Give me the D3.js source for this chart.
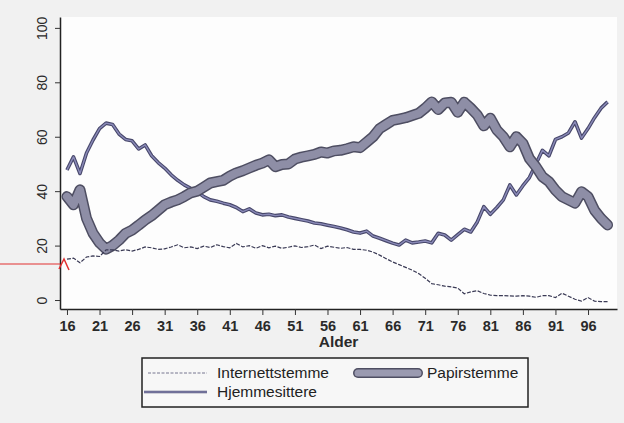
<!DOCTYPE html>
<html>
<head>
<meta charset="utf-8">
<script src="https://cdn.jsdelivr.net/npm/d3@7"></script>
<style>
  body { margin: 0; background: #f1f1f1; }
  svg { display: block; font-family: "Liberation Sans", Arial, sans-serif; }
</style>
</head>
<body>
<div id="chart"></div>
<script>
(function () {
  const width = 624, height = 423;

  // ages 16..99
  const ages = d3.range(16, 100);

  const internettstemme = [
    15, 15.4, 13.7, 15.8, 16.2, 16, 18.4, 18.4, 18, 18.5,
    18, 18.6, 19.5, 19.2, 18.6, 18.8, 19.5, 20.3, 19.2, 19.5,
    18.9, 19.8, 19.3, 20.3, 19.6, 19.2, 20.8, 19.5, 20, 19,
    20, 19.2, 19.8, 19, 19.4, 19.9, 19.3, 19.6, 20.2, 18.9,
    19.8, 19.4, 19, 19.3, 18.6, 18.6, 18.3, 17.6, 16.5, 15.2,
    14, 13, 12, 11, 9.7, 8, 6, 5.6, 5.1, 4.8,
    4.4, 2.3, 3, 3.4, 2.4, 1.8, 1.6, 1.6, 1.5, 1.4,
    1.6, 1.4, 1, 1.6, 1.6, 0.9, 2.5, 1.4, 0.3, -0.4,
    0.9, -0.4, -0.6, -0.6
  ];

  const papirstemme = [
    38, 35, 40.5, 30, 24.5, 21, 18.7, 20, 22, 24.5,
    25.7, 27.5, 29.4, 31, 33, 35, 36, 36.8, 38, 39.4,
    40, 41.5, 43, 43.5, 44, 45.5, 46.7, 47.5, 48.5, 49.5,
    50.3, 51.5, 49, 49.8, 50, 51.8, 52.5, 53, 53.5, 54.4,
    54, 54.8, 55, 55.6, 56.3, 56, 58, 60, 63, 64.5,
    66, 66.5, 67, 67.8, 68.6, 70.5, 72.8, 70, 72.4, 72.7,
    69, 72.7, 70.5, 68, 64, 66.8, 62.5, 60, 56.3, 60,
    57.6, 52, 49, 45.3, 43.5, 40.4, 38, 36.8, 35.6, 39.8,
    38, 33, 30, 27.6
  ];

  const hjemmesittere = [
    47.8, 52.6, 46.5, 54, 58.8, 63, 65, 64.5, 61, 59,
    58.5, 55.5, 57, 53, 50.5, 48.5, 46, 44, 42.3, 41,
    39.8, 38, 36.8, 36.3, 35.6, 35, 34, 32.5, 33.5, 32,
    31.3, 31.5, 31, 31.3, 30.5, 30, 29.5, 29, 28.3, 28,
    27.5, 27, 26.5, 25.8, 25, 24.6, 25.3, 23.5, 22.7, 21.8,
    20.9, 20.2, 22, 21, 21.3, 21.7, 21, 24.5, 23.9, 22,
    24, 26, 25, 28.7, 34.3, 31.5, 34, 36.8, 42.3, 38.6,
    42, 45, 50, 55, 53, 59, 60, 61.4, 65.5, 59.5,
    63, 67, 70.5, 72.8
  ];

  const xTicks = d3.range(16, 100, 5);
  const yTicks = [0, 20, 40, 60, 80, 100];
  const legendNames = ["Internettstemme", "Papirstemme", "Hjemmesittere"];

  const plot = { left: 60, right: 617, top: 17, bottom: 309 };

  const svg = d3.select("#chart").append("svg")
    .attr("width", width)
    .attr("height", height);

  svg.append("rect")
    .attr("width", width).attr("height", height)
    .attr("fill", "#f1f1f1");

  svg.append("rect")
    .attr("x", plot.left).attr("y", plot.top)
    .attr("width", plot.right - plot.left)
    .attr("height", plot.bottom - plot.top)
    .attr("fill", "#fdfdfd");

  const x = d3.scaleLinear().domain([14.93, 100.45]).range([plot.left, plot.right]);
  const y = d3.scaleLinear().domain([-3.3, 104]).range([plot.bottom, plot.top]);

  // Y axis
  const yAxis = svg.append("g")
    .attr("transform", `translate(${plot.left},0)`)
    .call(d3.axisLeft(y).tickValues(yTicks).tickSize(5).tickSizeOuter(0).tickFormat(d3.format("d")));
  yAxis.select(".domain").attr("stroke", "#222").attr("stroke-width", 1.5);
  yAxis.selectAll(".tick line").attr("stroke", "#333");
  yAxis.selectAll(".tick text")
    .attr("x", 0).attr("dy", 0)
    .attr("transform", "translate(-18,0) rotate(-90)")
    .attr("text-anchor", "middle")
    .attr("dominant-baseline", "central")
    .attr("font-size", 14)
    .attr("fill", "#2a2a2a");

  // X axis
  const xAxis = svg.append("g")
    .attr("transform", `translate(0,${plot.bottom})`)
    .call(d3.axisBottom(x).tickValues(xTicks).tickSize(6).tickSizeOuter(0));
  xAxis.select(".domain").attr("stroke", "#222").attr("stroke-width", 1.5);
  xAxis.selectAll(".tick line").attr("stroke", "#333");
  xAxis.selectAll(".tick text")
    .attr("y", 12)
    .attr("font-size", 14.5)
    .attr("font-weight", "bold")
    .attr("fill", "#2a2a2a");

  svg.append("text")
    .attr("x", (plot.left + plot.right) / 2)
    .attr("y", 347)
    .attr("text-anchor", "middle")
    .attr("font-size", 15.5)
    .attr("font-weight", "bold")
    .attr("fill", "#2a2a2a")
    .text("Alder");

  const line = values => d3.line()
    .x((d, i) => x(ages[i]))
    .y(d => y(d))(values);

  // Hjemmesittere
  svg.append("path")
    .attr("d", line(hjemmesittere))
    .attr("fill", "none")
    .attr("stroke", "#47476a")
    .attr("stroke-width", 3.6)
    .attr("stroke-linejoin", "round");
  svg.append("path")
    .attr("d", line(hjemmesittere))
    .attr("fill", "none")
    .attr("stroke", "#8a8ab8")
    .attr("stroke-width", 1.4)
    .attr("stroke-linejoin", "round");

  // Papirstemme
  svg.append("path")
    .attr("d", line(papirstemme))
    .attr("fill", "none")
    .attr("stroke", "#4e4e62")
    .attr("stroke-width", 11)
    .attr("stroke-linejoin", "round")
    .attr("stroke-linecap", "round");
  svg.append("path")
    .attr("d", line(papirstemme))
    .attr("fill", "none")
    .attr("stroke", "#8e8ea6")
    .attr("stroke-width", 8)
    .attr("stroke-linejoin", "round")
    .attr("stroke-linecap", "round");

  // Internettstemme
  svg.append("path")
    .attr("d", line(internettstemme))
    .attr("fill", "none")
    .attr("stroke", "#3a3a55")
    .attr("stroke-width", 1.2)
    .attr("stroke-dasharray", "4,1.5");

  // Legend
  const legend = svg.append("g");
  legend.append("rect")
    .attr("x", 142).attr("y", 358)
    .attr("width", 386).attr("height", 49)
    .attr("fill", "#f7f7f7")
    .attr("stroke", "#222")
    .attr("stroke-width", 1.5);

  legend.append("line")
    .attr("x1", 148).attr("x2", 207).attr("y1", 373).attr("y2", 373)
    .attr("stroke", "#777790").attr("stroke-width", 1)
    .attr("stroke-dasharray", "3,1.5");
  legend.append("text")
    .attr("x", 217).attr("y", 378)
    .attr("font-size", 15.5).attr("fill", "#222")
    .text(legendNames[0]);

  legend.append("line")
    .attr("x1", 358).attr("x2", 418).attr("y1", 373).attr("y2", 373)
    .attr("stroke", "#4e4e62").attr("stroke-width", 10)
    .attr("stroke-linecap", "round");
  legend.append("line")
    .attr("x1", 358).attr("x2", 418).attr("y1", 373).attr("y2", 373)
    .attr("stroke", "#9a9ab0").attr("stroke-width", 7)
    .attr("stroke-linecap", "round");
  legend.append("text")
    .attr("x", 427).attr("y", 378)
    .attr("font-size", 15.5).attr("fill", "#222")
    .text(legendNames[1]);

  legend.append("line")
    .attr("x1", 144).attr("x2", 207).attr("y1", 392).attr("y2", 392)
    .attr("stroke", "#55557a").attr("stroke-width", 2.5);
  legend.append("line")
    .attr("x1", 144).attr("x2", 207).attr("y1", 392).attr("y2", 392)
    .attr("stroke", "#9a9ac8").attr("stroke-width", 0.8);
  legend.append("text")
    .attr("x", 217).attr("y", 397)
    .attr("font-size", 15.5).attr("fill", "#222")
    .text(legendNames[2]);

  // red annotation mark
  svg.append("line")
    .attr("x1", 0).attr("x2", 60).attr("y1", 264).attr("y2", 264)
    .attr("stroke", "#e23030").attr("stroke-width", 1.2);
  svg.append("path")
    .attr("d", "M59,269 L64,259 L69,270")
    .attr("fill", "none")
    .attr("stroke", "#e23030").attr("stroke-width", 1.5);
})();
</script>
</body>
</html>
